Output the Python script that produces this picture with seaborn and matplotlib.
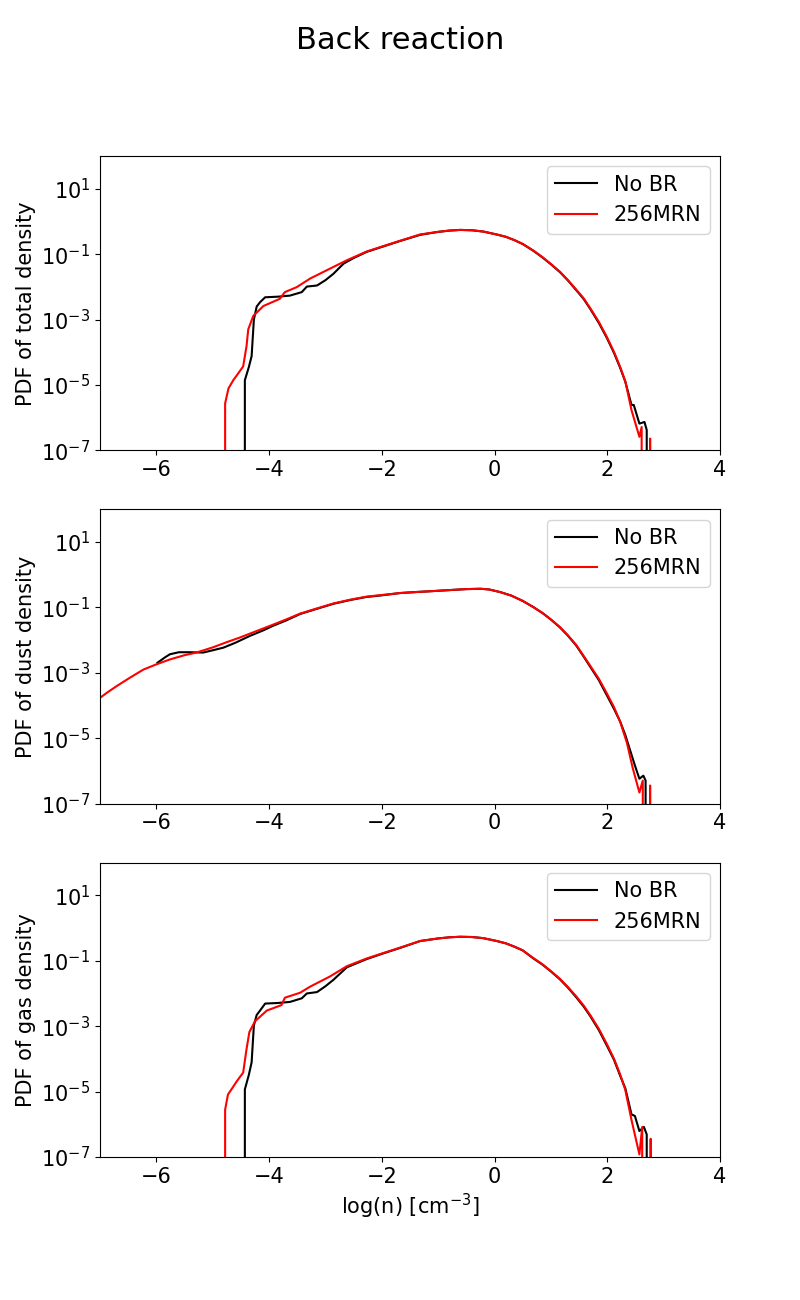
import matplotlib
matplotlib.use("Agg")
import matplotlib.pyplot as plt
import pandas as pd
import seaborn as sns

plt.rcParams['font.size'] = 15

labels = ["No BR", "256MRN"]
colors = ["black", "red"]

# total density PDF
x_total_nobr = [-4.43, -4.43, -4.36, -4.31, -4.27, -4.22, -4.16, -4.07, -3.85, -3.63,
                -3.42, -3.33, -3.15, -3.0, -2.86, -2.68, -2.5, -2.27, -2.0, -1.68,
                -1.32, -1.0, -0.8, -0.61, -0.4, -0.2, 0.04, 0.2, 0.35, 0.5,
                0.69, 0.85, 1.0, 1.16, 1.3, 1.45, 1.58, 1.7, 1.85, 1.99,
                2.12, 2.23, 2.32, 2.43, 2.47, 2.57, 2.66, 2.70, 2.70]
y_total_nobr = [0, 1.4e-5, 3.5e-5, 7.6e-5, 1.0e-3, 2.5e-3, 3.4e-3, 4.8e-3, 5.0e-3, 5.4e-3,
                6.9e-3, 1.02e-2, 1.1e-2, 1.6e-2, 2.5e-2, 5.1e-2, 7.6e-2, 0.117, 0.166, 0.251,
                0.389, 0.479, 0.525, 0.550, 0.537, 0.490, 0.398, 0.339, 0.269, 0.204,
                0.126, 0.0794, 0.049, 0.0282, 0.0158, 7.9e-3, 4.27e-3, 2.09e-3, 7.9e-4, 2.8e-4,
                9.5e-5, 3.3e-5, 1.26e-5, 2.45e-6, 2.45e-6, 6.6e-7, 7.4e-7, 4.2e-7, 0]
x_total_mrn = [-4.78, -4.78, -4.72, -4.63, -4.57, -4.46, -4.40, -4.37, -4.28, -4.10,
               -3.81, -3.72, -3.51, -3.27, -2.92, -2.62, -2.27, -2.0, -1.68, -1.32,
               -1.0, -0.8, -0.61, -0.4, -0.2, 0.04, 0.2, 0.35, 0.5, 0.69,
               0.85, 1.0, 1.16, 1.3, 1.45, 1.58, 1.7, 1.85, 1.99, 2.12,
               2.23, 2.32, 2.43, 2.57, 2.61, 2.65, 2.73, 2.76, 2.80]
y_total_mrn = [0, 2.75e-6, 7.9e-6, 1.45e-5, 2.0e-5, 3.7e-5, 1.55e-4, 5.0e-4, 1.3e-3, 2.6e-3,
               4.3e-3, 6.9e-3, 9.8e-3, 1.8e-2, 3.6e-2, 6.5e-2, 0.12, 0.17, 0.255, 0.40,
               0.48, 0.525, 0.550, 0.537, 0.490, 0.398, 0.339, 0.269, 0.204, 0.128,
               0.081, 0.050, 0.029, 0.0162, 8.2e-3, 4.5e-3, 2.2e-3, 8.5e-4, 3.0e-4, 1.02e-4,
               3.5e-5, 1.3e-5, 1.7e-6, 2.6e-7, 5.2e-7, 0, 0, 2.3e-7, 0]

# dust density PDF
x_dust_nobr = [-5.98, -5.85, -5.76, -5.6, -5.4, -5.17, -5.0, -4.81, -4.6, -4.34,
               -4.1, -3.93, -3.7, -3.45, -3.15, -2.86, -2.55, -2.27, -2.0, -1.68,
               -1.4, -1.09, -0.8, -0.5, -0.25, -0.1, 0.1, 0.3, 0.5, 0.69,
               0.85, 1.0, 1.16, 1.3, 1.45, 1.58, 1.7, 1.85, 1.99, 2.12,
               2.23, 2.32, 2.49, 2.57, 2.64, 2.68, 2.72]
y_dust_nobr = [2.04e-3, 2.95e-3, 3.7e-3, 4.27e-3, 4.27e-3, 4.17e-3, 4.9e-3, 5.9e-3, 8.3e-3, 0.0135,
               0.02, 0.0275, 0.0398, 0.063, 0.091, 0.129, 0.170, 0.209, 0.234, 0.275,
               0.295, 0.316, 0.339, 0.363, 0.372, 0.355, 0.295, 0.229, 0.158, 0.102,
               0.0676, 0.0427, 0.0245, 0.0138, 6.8e-3, 3.16e-3, 1.51e-3, 6.0e-4, 2.1e-4, 7.9e-5,
               3.2e-5, 1.26e-5, 1.48e-6, 5.8e-7, 7.2e-7, 5.1e-7, 0]
x_dust_mrn = [-7.05, -6.88, -6.7, -6.47, -6.23, -6.0, -5.76, -5.5, -5.29, -5.0,
              -4.75, -4.52, -4.25, -3.98, -3.7, -3.45, -3.15, -2.86, -2.55, -2.27,
              -2.0, -1.68, -1.4, -1.09, -0.8, -0.5, -0.25, -0.1, 0.1, 0.3,
              0.5, 0.69, 0.85, 1.0, 1.16, 1.3, 1.45, 1.58, 1.7, 1.85,
              1.99, 2.12, 2.23, 2.35, 2.45, 2.57, 2.63, 2.68, 2.73, 2.76, 2.81]
y_dust_mrn = [1.48e-4, 2.45e-4, 3.98e-4, 7.1e-4, 1.26e-3, 1.82e-3, 2.57e-3, 3.47e-3, 4.17e-3, 6.0e-3,
              8.7e-3, 0.012, 0.0182, 0.0275, 0.0427, 0.0646, 0.0933, 0.132, 0.174, 0.214,
              0.240, 0.275, 0.295, 0.316, 0.339, 0.363, 0.372, 0.355, 0.295, 0.229,
              0.158, 0.102, 0.0676, 0.0427, 0.0251, 0.0141, 7.1e-3, 3.3e-3, 1.62e-3, 6.6e-4,
              2.4e-4, 8.9e-5, 3.16e-5, 7.1e-6, 1.26e-6, 2.2e-7, 5.1e-7, 0, 0, 3.6e-7, 0]

# gas density PDF
x_gas_nobr = [-4.43, -4.43, -4.36, -4.31, -4.27, -4.22, -4.16, -4.07, -3.85, -3.63,
              -3.42, -3.33, -3.15, -3.0, -2.86, -2.62, -2.27, -2.0, -1.68, -1.32,
              -1.0, -0.8, -0.61, -0.4, -0.2, 0.04, 0.2, 0.35, 0.5, 0.69,
              0.85, 1.0, 1.16, 1.3, 1.45, 1.58, 1.7, 1.85, 1.99, 2.12,
              2.23, 2.32, 2.43, 2.49, 2.57, 2.65, 2.70, 2.72]
y_gas_nobr = [0, 1.17e-5, 3.2e-5, 7.8e-5, 1.05e-3, 2.2e-3, 3.0e-3, 4.9e-3, 5.1e-3, 5.5e-3,
              7.1e-3, 1.0e-2, 1.1e-2, 1.66e-2, 2.6e-2, 6.3e-2, 0.112, 0.162, 0.245, 0.40,
              0.48, 0.52, 0.54, 0.53, 0.49, 0.40, 0.34, 0.27, 0.207, 0.117,
              0.076, 0.047, 0.027, 0.0152, 7.6e-3, 4.0e-3, 2.0e-3, 7.6e-4, 2.6e-4, 9.3e-5,
              3.0e-5, 1.26e-5, 2.0e-6, 1.8e-6, 6.2e-7, 8.3e-7, 4.9e-7, 0]
x_gas_mrn = [-4.78, -4.78, -4.73, -4.64, -4.57, -4.46, -4.40, -4.35, -4.25, -4.04,
             -3.78, -3.72, -3.45, -3.27, -2.92, -2.62, -2.27, -2.0, -1.68, -1.32,
             -1.0, -0.8, -0.61, -0.4, -0.2, 0.04, 0.2, 0.35, 0.5, 0.69,
             0.85, 1.0, 1.16, 1.3, 1.45, 1.58, 1.7, 1.85, 1.99, 2.12,
             2.23, 2.32, 2.43, 2.57, 2.62, 2.65, 2.74, 2.77, 2.79]
y_gas_mrn = [0, 2.8e-6, 8.1e-6, 1.38e-5, 2.1e-5, 3.8e-5, 2.0e-4, 6.6e-4, 1.41e-3, 3.0e-3,
             4.4e-3, 7.4e-3, 1.05e-2, 1.62e-2, 3.3e-2, 6.8e-2, 0.117, 0.166, 0.25, 0.40,
             0.48, 0.52, 0.54, 0.53, 0.49, 0.40, 0.34, 0.27, 0.207, 0.12,
             0.078, 0.048, 0.028, 0.0158, 8.1e-3, 4.3e-3, 2.15e-3, 8.3e-4, 2.9e-4, 1.0e-4,
             3.3e-5, 1.12e-5, 1.35e-6, 1.2e-7, 8.3e-7, 0, 0, 3.6e-7, 0]

panels = [
    ("PDF of total density", (x_total_nobr, y_total_nobr), (x_total_mrn, y_total_mrn)),
    ("PDF of dust density", (x_dust_nobr, y_dust_nobr), (x_dust_mrn, y_dust_mrn)),
    ("PDF of gas density", (x_gas_nobr, y_gas_nobr), (x_gas_mrn, y_gas_mrn)),
]


def main():
    fig, axes = plt.subplots(3, 1, figsize=(8, 13), dpi=100)

    for ax, (ylabel, nobr, mrn) in zip(axes, panels):
        for (xs, ys), label, color in zip([nobr, mrn], labels, colors):
            df = pd.DataFrame({"logn": xs, "pdf": ys})
            sns.lineplot(data=df, x="logn", y="pdf", color=color, label=label,
                         sort=False, estimator=None, linewidth=1.5, ax=ax)
        ax.set_yscale("log")
        ax.set_xlim(-7, 4)
        ax.set_ylim(1e-7, 1e2)
        ax.set_xticks([-6, -4, -2, 0, 2, 4])
        ax.minorticks_off()
        ax.set_ylabel(ylabel)
        ax.set_xlabel("")
        ax.legend(loc="upper right")

    axes[-1].set_xlabel(r"log(n) [cm$^{-3}$]")
    fig.suptitle("Back reaction", fontsize=22)

    plt.savefig("out.png")
    plt.clf()


if __name__ == "__main__":
    main()
